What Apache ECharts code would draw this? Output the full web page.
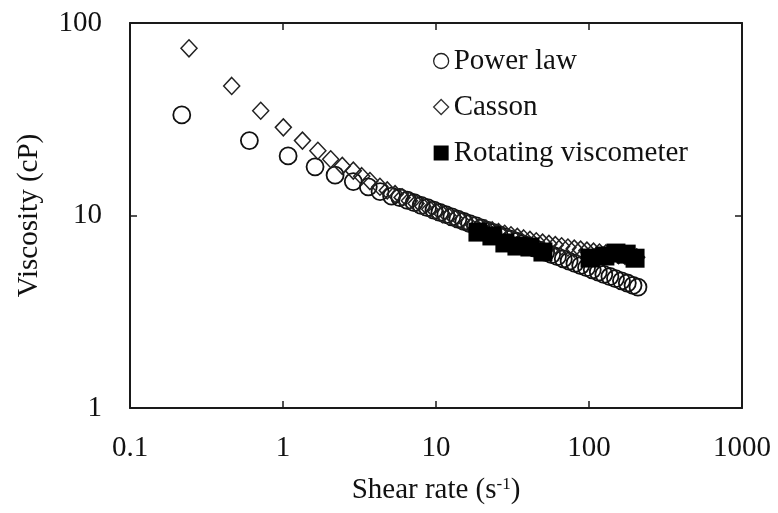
<!DOCTYPE html>
<html>
<head>
<meta charset="utf-8">
<script src="https://cdn.jsdelivr.net/npm/echarts@6/dist/echarts.min.js"></script>
<style>
  html, body { margin: 0; padding: 0; background: #fff; }
  #chart { width: 778px; height: 513px; }
</style>
</head>
<body>
<div id="chart"></div>
<script>
// Shear rate (1/s) and viscosity (cP) for each data set
const powerLawShear = [0.218, 0.603, 1.08, 1.62, 2.19, 2.88, 3.61, 4.31, 5.13, 5.8, 6.5, 7.2, 8.0, 8.8, 9.7, 10.6, 11.6, 12.7, 13.9, 15.2, 16.6, 18.1, 19.8, 21.6, 23.6, 25.8, 28.2, 30.8, 33.6, 36.7, 40.1, 43.8, 47.8, 52.2, 57.0, 62.2, 67.9, 74.1, 80.9, 88.3, 96.4, 105, 115, 125, 137, 149, 163, 178, 194, 209];
const powerLawVisc = [33.3, 24.5, 20.4, 17.9, 16.2, 15.0, 14.1, 13.3, 12.6, 12.4, 12.0, 11.66, 11.3, 10.98, 10.67, 10.38, 10.11, 9.84, 9.57, 9.32, 9.08, 8.85, 8.61, 8.39, 8.17, 7.95, 7.74, 7.54, 7.35, 7.15, 6.97, 6.79, 6.61, 6.44, 6.27, 6.11, 5.95, 5.8, 5.64, 5.5, 5.36, 5.22, 5.08, 4.95, 4.82, 4.7, 4.58, 4.46, 4.34, 4.25];

const cassonShear = [0.243, 0.462, 0.715, 1.005, 1.34, 1.69, 2.05, 2.44, 2.88, 3.27, 3.70, 4.3, 4.8, 5.4, 6.0, 6.7, 7.4, 8.2, 9.1, 10.0, 11.0, 12.1, 13.3, 14.6, 16.0, 17.6, 19.3, 21.2, 23.3, 25.6, 28.1, 30.9, 34.0, 37.4, 41.1, 45.2, 49.7, 54.7, 60.2, 66.2, 72.8, 80.1, 88.1, 96.9, 107, 117, 129, 142, 156, 172, 189, 205];
const cassonVisc = [73.9, 47.1, 35.0, 28.7, 24.5, 21.7, 19.6, 18.1, 17.1, 16.0, 15.1, 14.1, 13.5, 12.91, 12.42, 11.94, 11.53, 11.15, 10.78, 10.47, 10.17, 9.89, 9.63, 9.39, 9.17, 8.95, 8.75, 8.56, 8.37, 8.2, 8.04, 7.89, 7.74, 7.6, 7.47, 7.35, 7.23, 7.12, 7.02, 6.92, 6.82, 6.73, 6.65, 6.57, 6.49, 6.42, 6.35, 6.29, 6.23, 6.17, 6.11, 6.07];

const viscometerShear = [18.8, 23.2, 28.2, 33.8, 41.1, 50.0, 101.6, 127, 150, 175, 200];
const viscometerVisc = [8.2, 7.83, 7.2, 6.94, 6.86, 6.46, 6.01, 6.16, 6.38, 6.3, 6.0];

const xTicks = [0.1, 1, 10, 100, 1000];
const yTicks = [1, 10, 100];

const seriesNames = ['Power law', 'Casson', 'Rotating viscometer'];

function pairs(xs, ys) {
  return xs.map((x, i) => [x, ys[i]]);
}

const serif = '"Liberation Serif", "Times New Roman", serif';
const ink = '#111';

const chart = echarts.init(document.getElementById('chart'), null, { renderer: 'canvas' });

const baseAxis = {
  type: 'log',
  logBase: 10,
  axisLine: { show: true, lineStyle: { color: '#1a1a1a', width: 2 } },
  axisTick: { show: true, inside: true, length: 7, lineStyle: { color: '#1a1a1a', width: 1.5 } },
  minorTick: { show: false },
  splitLine: { show: false }
};

chart.setOption({
  animation: false,
  backgroundColor: '#fff',
  grid: { left: 130, right: 36, top: 23, bottom: 105 },
  legend: {
    orient: 'vertical',
    left: 428,
    top: 41,
    itemWidth: 15,
    itemHeight: 15,
    itemGap: 16,
    textStyle: { fontFamily: serif, fontSize: 29, color: ink, lineHeight: 30 },
    data: [
      { name: seriesNames[0], icon: 'circle', itemStyle: { color: '#fff', borderColor: '#222', borderWidth: 1.3, opacity: 1 } },
      { name: seriesNames[1], icon: 'diamond', itemStyle: { color: '#fff', borderColor: '#333', borderWidth: 1.3, opacity: 1 } },
      { name: seriesNames[2], icon: 'rect', itemStyle: { color: '#000', borderWidth: 0, opacity: 1 } }
    ]
  },
  xAxis: [
    Object.assign({}, baseAxis, {
      min: xTicks[0],
      max: xTicks[xTicks.length - 1],
      position: 'bottom',
      axisLabel: {
        fontFamily: serif, fontSize: 29, color: ink, margin: 26,
        formatter: v => String(v)
      },
      name: '{a|Shear rate (s}{b|-1}{a|)}',
      nameLocation: 'middle',
      nameGap: 68,
      nameTextStyle: {
        rich: {
          a: { fontFamily: serif, fontSize: 29, color: ink },
          b: { fontFamily: serif, fontSize: 17, color: ink, padding: [0, 0, 12, 0] }
        }
      }
    }),
    Object.assign({}, baseAxis, {
      min: xTicks[0],
      max: xTicks[xTicks.length - 1],
      position: 'top',
      axisLabel: { show: false }
    })
  ],
  yAxis: [
    Object.assign({}, baseAxis, {
      min: yTicks[0],
      max: yTicks[yTicks.length - 1],
      position: 'left',
      axisLabel: {
        fontFamily: serif, fontSize: 29, color: ink, margin: 28,
        formatter: v => String(v)
      },
      name: 'Viscosity (cP)',
      nameLocation: 'middle',
      nameGap: 86,
      nameTextStyle: { fontFamily: serif, fontSize: 29, color: ink }
    }),
    Object.assign({}, baseAxis, {
      min: yTicks[0],
      max: yTicks[yTicks.length - 1],
      position: 'right',
      axisLabel: { show: false }
    })
  ],
  series: [
    {
      name: seriesNames[0],
      type: 'scatter',
      symbol: 'circle',
      symbolSize: 17,
      itemStyle: { color: 'transparent', borderColor: '#111', borderWidth: 1.8, opacity: 1 },
      data: pairs(powerLawShear, powerLawVisc),
      z: 2
    },
    {
      name: seriesNames[1],
      type: 'scatter',
      symbol: 'diamond',
      symbolSize: [16, 17],
      itemStyle: { color: 'transparent', borderColor: '#222', borderWidth: 1.5, opacity: 1 },
      data: pairs(cassonShear, cassonVisc),
      z: 3
    },
    {
      name: seriesNames[2],
      type: 'scatter',
      symbol: 'rect',
      symbolSize: 19,
      itemStyle: { color: '#000', borderWidth: 0, opacity: 1 },
      data: pairs(viscometerShear, viscometerVisc),
      z: 4
    }
  ]
});
</script>
</body>
</html>
